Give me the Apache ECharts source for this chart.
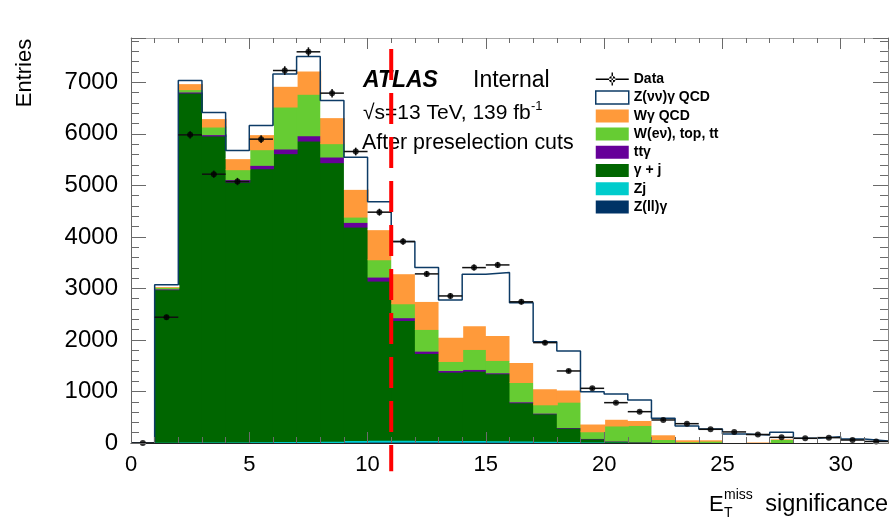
<!DOCTYPE html>
<html>
<head>
<meta charset="utf-8">
<script src="https://cdn.jsdelivr.net/npm/echarts@6/dist/echarts.min.js"></script>
<style>
  html, body { margin: 0; padding: 0; background: #fff; }
  #chart { width: 894px; height: 519px; }
</style>
</head>
<body>
<div id="chart"></div>
<script>
// bin low edges (width 1)
const binLow = [0,1,2,3,4,5,6,7,8,9,10,11,12,13,14,15,16,17,18,19,20,21,22,23,24,25,26,27,28,29,30,31];

// stacked MC contributions per bin, bottom to top
const zllg = [0,10,12,12,12,14,15,16,18,25,28,28,28,26,26,25,22,20,18,15,12,10,5,3,3,2,2,2,1,1,1,1];
const zj   = [0,15,18,18,18,20,22,24,26,35,35,34,32,30,30,28,25,22,20,15,12,10,5,2,2,2,1,1,1,1,1,1];
const gj   = [0,2960,6772,5938,5044,5299,5588,5830,5406,4140,3089,2326,1688,1329,1348,1300,743,534,262,60,20,10,5,3,3,2,2,2,1,1,1,1];
const ttg  = [0,15,20,26,46,65,90,105,110,91,78,53,44,32,33,19,19,13,10,8,5,3,2,1,1,1,1,1,1,0,0,0];
const wev  = [0,30,46,148,194,304,815,802,259,103,336,271,422,175,388,240,375,162,492,130,291,317,61,26,36,3,3,72,6,3,3,3];
const wg   = [0,15,116,163,214,292,402,452,505,538,584,583,543,472,460,485,389,310,238,150,130,97,91,37,27,10,21,12,5,5,3,5];
const znn  = [0,25,51,109,148,168,227,272,323,615,530,614,647,713,990,1210,1151,906,746,619,481,388,311,258,200,155,125,117,76,112,69,29];

// data
const dataVals = [0,2441,5980,5217,5074,5897,7229,7592,6790,5657,4480,3909,3282,2854,3404,3456,2740,1948,1398,1061,783,608,447,375,266,215,165,110,91,104,58,30];

const yTicks = [0,1000,2000,3000,4000,5000,6000,7000];
const xTicks = [0,5,10,15,20,25,30];
const cutValue = 11;

const FONT = 'Liberation Sans, Arial, Helvetica, sans-serif';
const NAVY = '#0d3b66';

const layers = [
    { name: 'Z(ll)γ', color: '#003366', values: zllg },
    { name: 'Zj', color: '#00cccc', values: zj },
    { name: 'γ + j', color: '#006600', values: gj },
    { name: 'ttγ', color: '#660099', values: ttg },
    { name: 'W(eν), top, tt', color: '#66cc33', values: wev },
    { name: 'Wγ QCD', color: '#ff9a3a', values: wg },
    { name: 'Z(νν)γ QCD', color: '#ffffff', values: znn }
];

const total = binLow.map(() => 0);
const series = [];

// one custom series per stacked component
layers.forEach(layer => {
    const data = binLow.map((lo, i) => {
        const bottom = total[i];
        total[i] += layer.values[i];
        return [lo, lo + 1, bottom, total[i]];
    });
    series.push({
        type: 'custom',
        name: layer.name,
        itemStyle: { color: layer.color },
        encode: { x: [0, 1], y: [2, 3] },
        z: 2,
        renderItem: function (params, api) {
            if (api.value(3) <= api.value(2)) return;
            const p0 = api.coord([api.value(0), api.value(3)]);
            const p1 = api.coord([api.value(1), api.value(2)]);
            // overlap by 1px so neighbouring bins leave no seam
            return {
                type: 'rect',
                shape: { x: p0[0], y: p0[1], width: p1[0] - p0[0] + 1, height: p1[1] - p0[1] + 1 },
                style: { fill: layer.color }
            };
        },
        data: data
    });
});

// outline of the total stack
const stepData = binLow.map((lo, i) => [lo, total[i]]);
stepData.push([32, total[total.length - 1]]);
series.push({
    type: 'line',
    name: 'Z(νν)γ QCD',
    step: 'end',
    symbol: 'none',
    z: 3,
    lineStyle: { color: NAVY, width: 1.5 },
    itemStyle: { color: NAVY },
    data: stepData
});

// data error bars
series.push({
    type: 'custom',
    name: 'Data',
    z: 5,
    itemStyle: { color: '#000' },
    encode: { x: [0, 1], y: 2 },
    renderItem: function (params, api) {
        const lo = api.value(0), hi = api.value(1), v = api.value(2);
        const err = Math.sqrt(v);
        const a = api.coord([lo, v]);
        const b = api.coord([hi, v]);
        const up = api.coord([(lo + hi) / 2, v + err]);
        const dn = api.coord([(lo + hi) / 2, v - err]);
        return {
            type: 'group',
            children: [
                { type: 'line', shape: { x1: a[0], y1: a[1], x2: b[0], y2: b[1] }, style: { stroke: '#111', lineWidth: 1.5 } },
                { type: 'line', shape: { x1: up[0], y1: up[1], x2: dn[0], y2: dn[1] }, style: { stroke: '#111', lineWidth: 1.5 } }
            ]
        };
    },
    data: binLow.map((lo, i) => [lo, lo + 1, dataVals[i]])
});

series.push({
    type: 'scatter',
    name: 'Data',
    symbol: 'circle',
    symbolSize: 6,
    z: 6,
    itemStyle: { color: '#000' },
    data: binLow.map((lo, i) => [lo + 0.5, dataVals[i]])
});

// cut line
series.push({
    type: 'custom',
    name: 'cut',
    z: 7,
    silent: true,
    renderItem: function (params, api) {
        const top = api.coord([api.value(0), api.value(1)]);
        const bot = api.coord([api.value(0), api.value(2)]);
        return {
            type: 'line',
            shape: { x1: top[0], y1: top[1], x2: bot[0], y2: bot[1] },
            style: { stroke: '#ff0000', lineWidth: 4, lineDash: [31, 13], lineDashOffset: 33 }
        };
    },
    data: [[cutValue, 7860, -550]]
});

const dataIcon = 'path://M0,6 L33,6 L33,7.5 L0,7.5 Z M15.8,0 L17.2,0 L17.2,13 L15.8,13 Z ' +
    'M13.3,6.75 A3.2,3.2 0 1 0 19.7,6.75 A3.2,3.2 0 1 0 13.3,6.75 Z';

const tickGrey = '#6a6a6a';

// grid 0 carries the series and the major ticks, grid 1 (same box) only the minor ticks
function xAx(grid, pos, interval, len, showLine, showLabel, lineColor) {
    return {
        type: 'value', gridIndex: grid, min: 0, max: 32, interval: interval, position: pos, z: 10,
        axisLine: { show: showLine, onZero: false, lineStyle: { color: lineColor || '#222', width: 1 } },
        axisTick: { show: true, inside: true, length: len, lineStyle: { color: tickGrey, width: 1 } },
        axisLabel: {
            show: showLabel, fontSize: 22, fontFamily: FONT, color: '#000', margin: 11,
            formatter: v => (xTicks.indexOf(v) >= 0 ? String(v) : '')
        },
        splitLine: { show: false }
    };
}

function yAx(grid, pos, interval, len, showLine, showLabel, lineColor) {
    return {
        type: 'value', gridIndex: grid, min: 0, max: 7860, interval: interval, position: pos, z: 10,
        axisLine: { show: showLine, onZero: false, lineStyle: { color: lineColor || '#666', width: 1 } },
        axisTick: { show: true, inside: true, length: len, lineStyle: { color: tickGrey, width: 1 } },
        axisLabel: {
            show: showLabel, fontSize: 24, fontFamily: FONT, color: '#000', margin: 13,
            formatter: v => (yTicks.indexOf(v) >= 0 ? String(v) : '')
        },
        splitLine: { show: false }
    };
}

const gridBox = { left: 131, right: 6, top: 38, bottom: 76 };

const option = {
    backgroundColor: '#fff',
    animation: false,
    grid: [Object.assign({}, gridBox), Object.assign({}, gridBox)],
    xAxis: [
        xAx(0, 'bottom', 5, 11, true, true, '#222'),
        xAx(0, 'top', 5, 11, true, false, '#aaa'),
        xAx(1, 'bottom', 1, 6, false, false),
        xAx(1, 'top', 1, 5, false, false)
    ],
    yAxis: [
        yAx(0, 'left', 1000, 15, true, true, '#666'),
        yAx(0, 'right', 1000, 15, true, false, '#888'),
        yAx(1, 'left', 200, 8, false, false),
        yAx(1, 'right', 200, 8, false, false)
    ],
    legend: {
        orient: 'vertical',
        left: 590,
        top: 67,
        itemWidth: 33,
        itemHeight: 13,
        itemGap: 4.2,
        selectedMode: false,
        textStyle: { fontFamily: FONT, fontWeight: 'bold', fontSize: 14, color: '#000' },
        data: [
            { name: 'Data', icon: dataIcon, itemStyle: { color: '#000' } },
            { name: 'Z(νν)γ QCD', icon: 'rect', itemStyle: { color: '#fff', borderColor: NAVY, borderWidth: 1.5 } },
            { name: 'Wγ QCD', icon: 'rect' },
            { name: 'W(eν), top, tt', icon: 'rect' },
            { name: 'ttγ', icon: 'rect' },
            { name: 'γ + j', icon: 'rect' },
            { name: 'Zj', icon: 'rect' },
            { name: 'Z(ll)γ', icon: 'rect' }
        ]
    },
    graphic: [
        { type: 'text', x: 363, y: 80.5, style: { text: 'ATLAS', font: 'italic bold 23px ' + FONT, fill: '#000', verticalAlign: 'middle' } },
        { type: 'text', x: 473, y: 80.5, style: { text: 'Internal', font: '23px ' + FONT, fill: '#000', verticalAlign: 'middle' } },
        { type: 'text', x: 363, y: 113.5, style: { text: '√s=13 TeV, 139 fb', font: '21px ' + FONT, fill: '#000', verticalAlign: 'middle' } },
        { type: 'text', x: 531, y: 106, style: { text: '-1', font: '13px ' + FONT, fill: '#000', verticalAlign: 'middle' } },
        { type: 'text', x: 362, y: 143.5, style: { text: 'After preselection cuts', font: '21.4px ' + FONT, fill: '#000', verticalAlign: 'middle' } },
        { type: 'text', x: 25, y: 73, rotation: Math.PI / 2, style: { text: 'Entries', font: '22px ' + FONT, fill: '#000', align: 'center', verticalAlign: 'middle' } },
        { type: 'text', x: 709, y: 504.5, style: { text: 'E', font: '22px ' + FONT, fill: '#000', verticalAlign: 'middle' } },
        { type: 'text', x: 724, y: 495.5, style: { text: 'miss', font: '14px ' + FONT, fill: '#000', verticalAlign: 'middle' } },
        { type: 'text', x: 724, y: 513, style: { text: 'T', font: '14px ' + FONT, fill: '#000', verticalAlign: 'middle' } },
        { type: 'text', x: 888, y: 504.5, style: { text: 'significance', font: '23.5px ' + FONT, fill: '#000', align: 'right', verticalAlign: 'middle' } }
    ],
    series: series
};

const myChart = echarts.init(document.getElementById('chart'));
myChart.setOption(option);
</script>
</body>
</html>
